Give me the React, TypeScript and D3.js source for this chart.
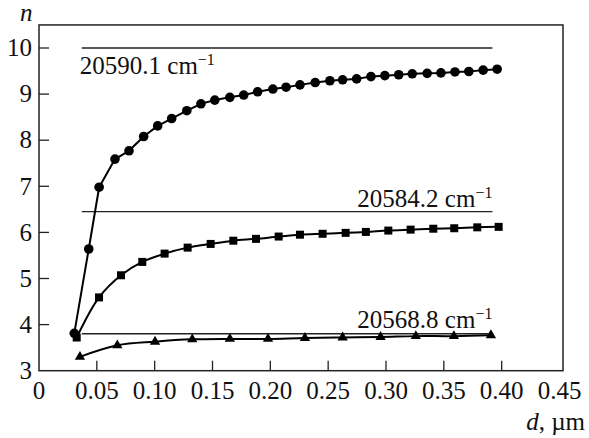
import React from "react";
import * as d3 from "d3";

// Series 20590.1 cm^-1 (circles)
const circleD = [0.0305, 0.043, 0.052, 0.0657, 0.0778, 0.0905, 0.1026, 0.1147, 0.1278, 0.14, 0.152, 0.165, 0.177, 0.189, 0.2022, 0.2136, 0.2256, 0.2388, 0.2515, 0.2625, 0.2746, 0.287, 0.299, 0.311, 0.3227, 0.3356, 0.3475, 0.3596, 0.3716, 0.384, 0.3961];
const circleN = [3.81, 5.64, 6.98, 7.59, 7.77, 8.08, 8.31, 8.47, 8.64, 8.79, 8.87, 8.93, 8.98, 9.05, 9.11, 9.15, 9.2, 9.25, 9.29, 9.31, 9.33, 9.38, 9.4, 9.42, 9.44, 9.45, 9.46, 9.48, 9.49, 9.52, 9.54];

// Series 20584.2 cm^-1 (squares)
const squareD = [0.0326, 0.0519, 0.0709, 0.0893, 0.1086, 0.1285, 0.1484, 0.168, 0.1876, 0.2072, 0.2256, 0.2452, 0.2651, 0.2826, 0.302, 0.3213, 0.3409, 0.359, 0.3789, 0.3974];
const squareN = [3.72, 4.59, 5.07, 5.36, 5.54, 5.67, 5.75, 5.82, 5.86, 5.91, 5.95, 5.97, 5.99, 6.01, 6.04, 6.06, 6.08, 6.09, 6.11, 6.12];

// Series 20568.8 cm^-1 (triangles)
const triD = [0.0354, 0.0677, 0.1003, 0.1325, 0.165, 0.198, 0.2299, 0.2625, 0.2953, 0.3258, 0.3587, 0.3907];
const triN = [3.3, 3.55, 3.63, 3.68, 3.69, 3.69, 3.71, 3.72, 3.73, 3.75, 3.75, 3.77];

// Horizontal reference levels
const refLabels = ["20590.1", "20584.2", "20568.8"];
const refN = [10.0, 6.45, 3.8];
const refStart = 0.037;
const refEnd = 0.392;

const xTicks = [0, 0.05, 0.1, 0.15, 0.2, 0.25, 0.3, 0.35, 0.4, 0.45];
const xTickLabels = ["0", "0.05", "0.10", "0.15", "0.20", "0.25", "0.30", "0.35", "0.40", "0.45"];
const yTicks = [3, 4, 5, 6, 7, 8, 9, 10];
const yTickLabels = ["3", "4", "5", "6", "7", "8", "9", "10"];

const FONT = "'Liberation Serif', 'DejaVu Serif', 'Noto Serif', Tinos, 'Times New Roman', Times, serif";

export default function App() {
  const W = 589;
  const H = 438;
  const x = d3.scaleLinear().domain([0, 0.45]).range([39, 559.5]);
  const y = d3.scaleLinear().domain([3, 10]).range([370.7, 48]);
  const left = x(0);
  const bottom = y(3);
  const right = 563;
  const top = y(10.5);

  const smooth = d3
    .line<[number, number]>()
    .x((d) => x(d[0]))
    .y((d) => y(d[1]))
    .curve(d3.curveCatmullRom.alpha(0.5));
  const straight = d3
    .line<[number, number]>()
    .x((d) => x(d[0]))
    .y((d) => y(d[1]));

  const circ = circleD.map((d, i) => [d, circleN[i]] as [number, number]);
  const sq = squareD.map((d, i) => [d, squareN[i]] as [number, number]);
  const tri = triD.map((d, i) => [d, triN[i]] as [number, number]);
  const triPath = d3.symbol().type(d3.symbolTriangle).size(46)() as string;

  const fs = 25;
  const txt = { fontFamily: FONT } as React.CSSProperties;

  return (
    <div>
      <style>{"body{margin:0} svg text{font-family:" + FONT + ";}"}</style>
      <svg width={W} height={H} style={{ display: "block", background: "#fff", fontFamily: FONT }}>
        {/* frame */}
        <rect x={left} y={top} width={right - left} height={bottom - top} fill="none" stroke="#222" strokeWidth={1.5} />
        {/* y ticks */}
        {yTicks.map((t, i) => (
          <g key={"y" + t}>
            {i > 0 && <line x1={left} x2={left + 10} y1={y(t)} y2={y(t)} stroke="#222" strokeWidth={1.3} />}
            <text x={32} y={y(t)} dy="0.33em" textAnchor="end" fontSize={fs} fill="#111" style={txt}>
              {yTickLabels[i]}
            </text>
          </g>
        ))}
        {/* x ticks */}
        {xTicks.map((t, i) => (
          <g key={"x" + t}>
            {i > 0 && i < xTicks.length - 1 && (
              <line x1={x(t)} x2={x(t)} y1={bottom} y2={bottom - 10} stroke="#222" strokeWidth={1.3} />
            )}
            <text x={x(t)} y={399} textAnchor="middle" fontSize={fs} fill="#111" style={txt}>
              {xTickLabels[i]}
            </text>
          </g>
        ))}
        {/* axis titles */}
        <text x={20} y={21} fontSize={fs} fontStyle="italic" fill="#111" style={txt}>n</text>
        <text x={585} y={430} textAnchor="end" fontSize={fs} fill="#111" style={txt}>
          <tspan fontStyle="italic">d</tspan>, µm
        </text>

        {/* reference lines */}
        {refN.map((n, i) => (
          <line key={"r" + i} x1={x(refStart)} x2={x(refEnd)} y1={y(n)} y2={y(n)} stroke="#222" strokeWidth={1.4} />
        ))}
        <text x={x(refStart) - 2} y={y(refN[0]) + 26} fontSize={fs} fill="#111" style={txt}>
          {refLabels[0]} cm<tspan fontSize={16} dy={-9}>−1</tspan>
        </text>
        <text x={x(refEnd)} y={y(refN[1]) - 5} textAnchor="end" fontSize={fs} fill="#111" style={txt}>
          {refLabels[1]} cm<tspan fontSize={16} dy={-9}>−1</tspan>
        </text>
        <text x={x(refEnd)} y={y(refN[2]) - 6} textAnchor="end" fontSize={fs} fill="#111" style={txt}>
          {refLabels[2]} cm<tspan fontSize={16} dy={-9}>−1</tspan>
        </text>

        {/* curves */}
        <path d={straight(circ) as string} fill="none" stroke="#000" strokeWidth={2} strokeLinejoin="round" />
        <path d={smooth(sq) as string} fill="none" stroke="#000" strokeWidth={2} />
        <path d={smooth(tri) as string} fill="none" stroke="#000" strokeWidth={2} />

        {circ.map((p, i) => (
          <circle key={"c" + i} cx={x(p[0])} cy={y(p[1])} r={4.8} fill="#000" />
        ))}
        {sq.map((p, i) => (
          <rect key={"s" + i} x={x(p[0]) - 4} y={y(p[1]) - 4} width={8} height={8} fill="#000" />
        ))}
        {tri.map((p, i) => (
          <path key={"t" + i} d={triPath} transform={`translate(${x(p[0])},${y(p[1])})`} fill="#000" />
        ))}
      </svg>
    </div>
  );
}
